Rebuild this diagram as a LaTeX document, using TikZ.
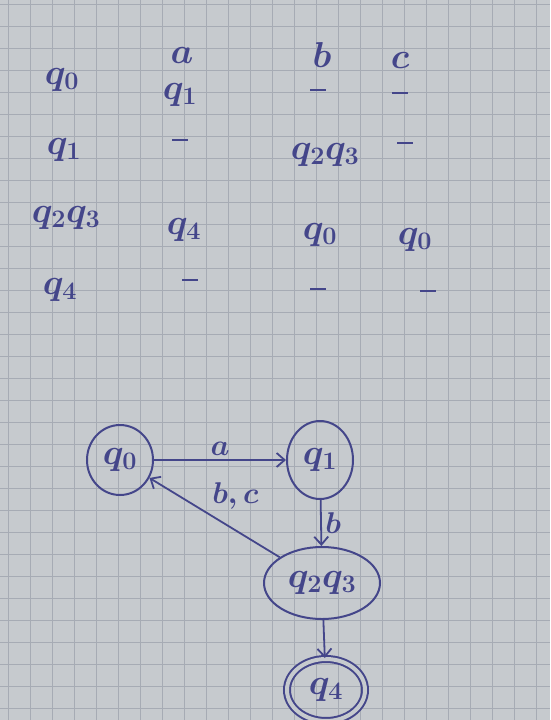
\RequirePackage{fix-cm}
\documentclass[tikz,border=0pt]{standalone}
\usetikzlibrary{arrows.meta,shapes.geometric}

\definecolor{paper}{RGB}{198,202,206}
\definecolor{gridline}{RGB}{166,171,180}
\definecolor{ink}{RGB}{68,70,138}

\newcommand{\nodash}{\rule[10pt]{16pt}{2.8pt}}

\tikzset{
  ink/.style={text=ink},
  state/.style={draw=ink, line width=2pt, ellipse, inner sep=1pt, text=ink},
  trans/.style={draw=ink, line width=1.8pt, -{Straight Barb[length=8pt,width=14pt,line width=1.8pt]}},
  lbl/.style={text=ink, font=\fontsize{30}{34}\selectfont\boldmath}
}

\begin{document}
\begin{tikzpicture}[x=1pt, y=-1pt, font=\fontsize{36}{40}\selectfont\boldmath]

    \useasboundingbox (0,0) rectangle (550,720);
    \fill[paper] (0,0) rectangle (550,720); % sheet

    \foreach \gx in {8,30,...,550} % vertical grid lines
      \draw[gridline, line width=1pt] (\gx,0) -- (\gx,720);
    \foreach \gy in {4,26,...,720} % horizontal grid lines
      \draw[gridline, line width=1pt] (0,\gy) -- (550,\gy);

    % transition table
    \node[ink] (ha) at (182,55) {$a$};
    \node[ink] (hb) at (322,55) {$b$};
    \node[ink] (hc) at (400,60) {$c$};

    \node[ink] (r0) at (62,80)  {$q_0$};
    \node[ink] (r0a) at (180,95) {$q_1$};
    \node[ink] (r0b) at (318,95) {\nodash};
    \node[ink] (r0c) at (400,98) {\nodash};

    \node[ink] (r1) at (64,150) {$q_1$};
    \node[ink] (r1a) at (180,145) {\nodash};
    \node[ink] (r1b) at (325,155) {$q_2q_3$};
    \node[ink] (r1c) at (405,148) {\nodash};

    \node[ink] (r2) at (66,218) {$q_2q_3$};
    \node[ink] (r2a) at (184,230) {$q_4$};
    \node[ink] (r2b) at (320,235) {$q_0$};
    \node[ink] (r2c) at (415,240) {$q_0$};

    \node[ink] (r3) at (60,290) {$q_4$};
    \node[ink] (r3a) at (190,285) {\nodash};
    \node[ink] (r3b) at (318,294) {\nodash};
    \node[ink] (r3c) at (428,296) {\nodash};

    % automaton
    \node[state, minimum width=66pt, minimum height=70pt] (q0) at (120,460) {$q_0$};
    \node[state, minimum width=66pt, minimum height=78pt] (q1) at (320,460) {$q_1$};
    \node[state, minimum width=116pt, minimum height=72pt] (q23) at (322,583) {$q_2q_3$};
    \node[state, double=paper, double distance=4pt, minimum width=78pt, minimum height=62pt] (q4) at (326,690) {$q_4$};

    \draw[trans] (q0) -- node[lbl, above] {$a$} (q1);
    \draw[trans] (q1) -- node[lbl, right] {$b$} (q23);
    \draw[trans] (q23) -- node[lbl, above right, pos=0.55] {$b,c$} (q0);
    \draw[trans] (q23) -- (q4);

\end{tikzpicture}
\end{document}
